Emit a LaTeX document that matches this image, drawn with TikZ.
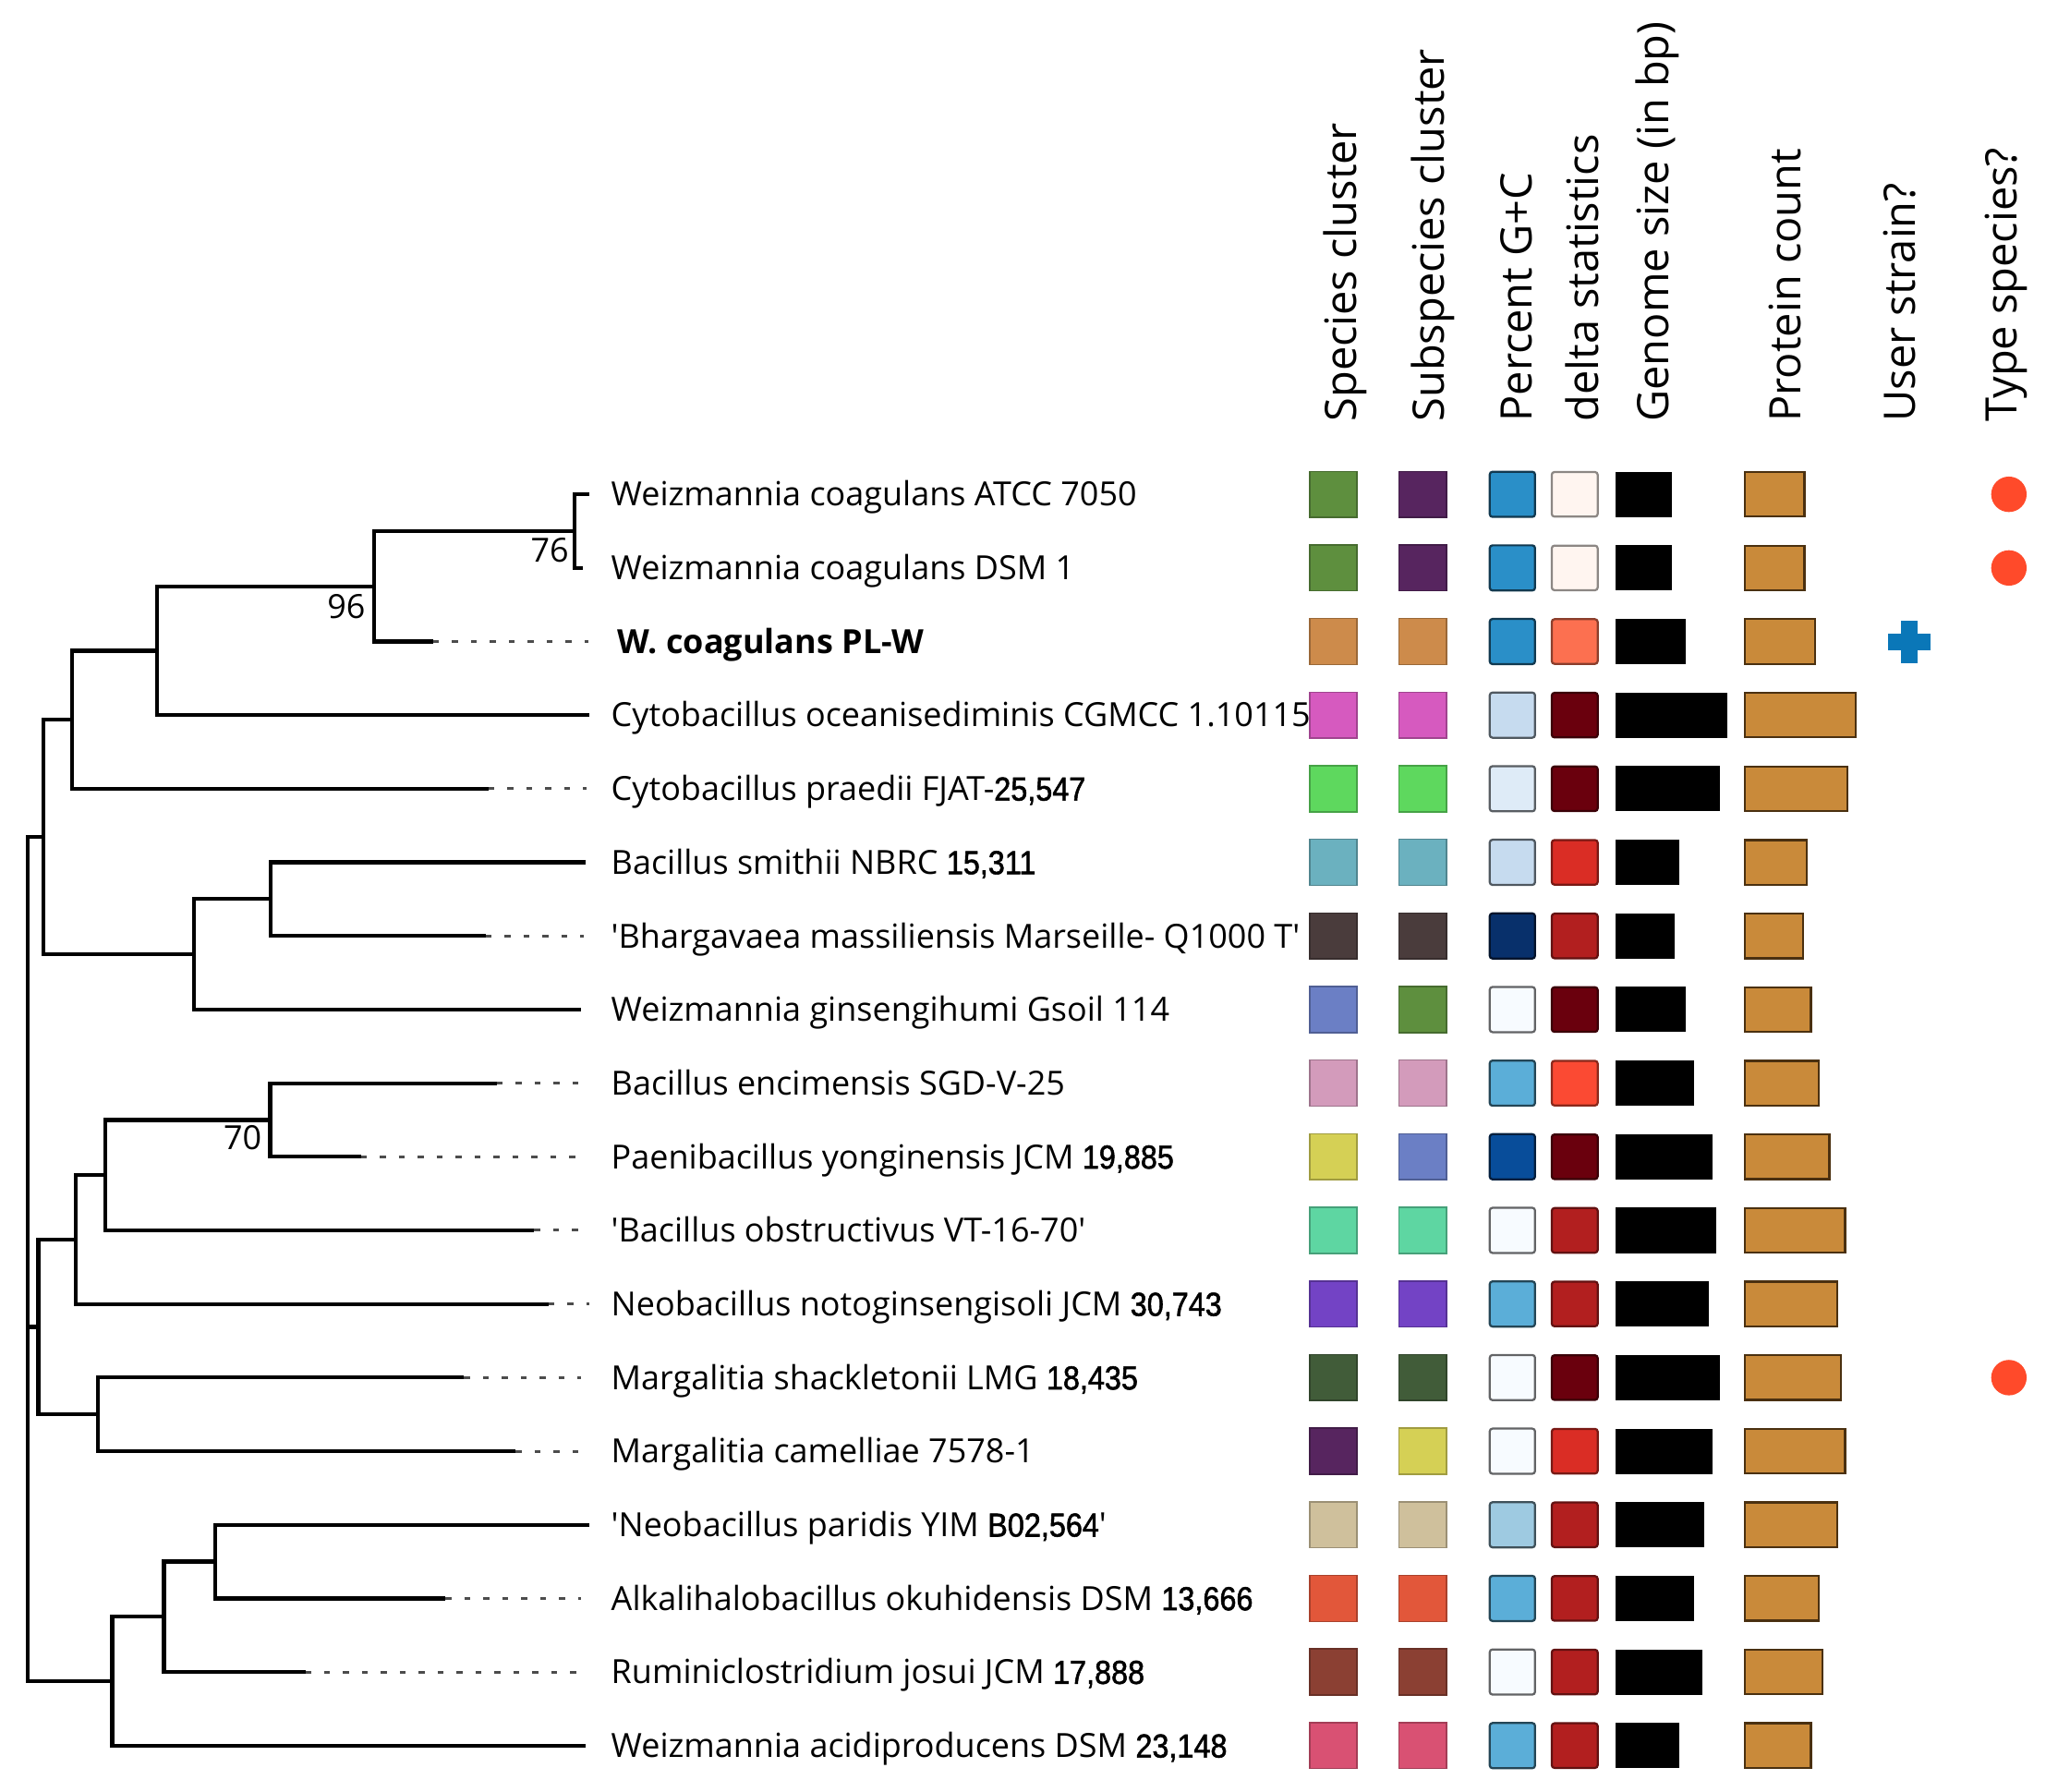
\documentclass[tikz,border=0pt]{standalone}
\usepackage{fontspec}
\setmainfont{Open Sans}
\newfontfamily\numfont[FakeBold=1.5, FakeStretch=0.9]{Liberation Sans}
\usetikzlibrary{positioning}

% cluster colours
\definecolor{spgreen}{HTML}{5E8F3E}
\definecolor{sppurple}{HTML}{57255F}
\definecolor{sptan}{HTML}{CD8B4B}
\definecolor{spmagenta}{HTML}{D65ABF}
\definecolor{splime}{HTML}{5ED85E}
\definecolor{spteal}{HTML}{6BB1BF}
\definecolor{spbrown}{HTML}{4A3C3C}
\definecolor{spslate}{HTML}{6B7FC5}
\definecolor{sppink}{HTML}{D39BBB}
\definecolor{spyellow}{HTML}{D5D055}
\definecolor{spmint}{HTML}{5ED6A2}
\definecolor{spviolet}{HTML}{7343C5}
\definecolor{spforest}{HTML}{415C39}
\definecolor{spbeige}{HTML}{CFC09C}
\definecolor{spcoral}{HTML}{E2573A}
\definecolor{sprust}{HTML}{8B4033}
\definecolor{sprose}{HTML}{D95173}
% G+C scale
\definecolor{gcA}{HTML}{2A8FC8}
\definecolor{gcB}{HTML}{5BAED8}
\definecolor{gcC}{HTML}{9ECAE1}
\definecolor{gcD}{HTML}{C6DBEF}
\definecolor{gcE}{HTML}{DEEBF7}
\definecolor{gcF}{HTML}{F7FBFF}
\definecolor{gcG}{HTML}{084D9A}
\definecolor{gcH}{HTML}{08306B}
% delta scale
\definecolor{dlA}{HTML}{FFF5F0}
\definecolor{dlB}{HTML}{FC7050}
\definecolor{dlC}{HTML}{FB4A33}
\definecolor{dlD}{HTML}{DA2D25}
\definecolor{dlE}{HTML}{B21F1F}
\definecolor{dlF}{HTML}{6A000D}
\definecolor{protfill}{HTML}{C98A3A}
\definecolor{protline}{HTML}{4A3010}
\definecolor{typered}{HTML}{FF4A2A}
\definecolor{userblue}{HTML}{0A77B8}

\tikzset{%
	branch/.style={line width=0.85pt},
	tail/.style={line width=0.6pt, gray!60!black, dash pattern=on 1.3pt off 2.8pt},
	taxon/.style={anchor=base west, inner sep=0pt, font=\fontsize{7.2}{8}\selectfont},
	boot/.style={anchor=north east, inner sep=0pt, font=\fontsize{7.2}{8}\selectfont},
	colhead/.style={rotate=90, anchor=base west, inner sep=0pt, font=\fontsize{9.4}{10}\selectfont},
	clus/.style={fill=#1, draw=#1!75!black, line width=0.3pt, inner sep=0pt,%
		minimum width=3.6mm, minimum height=3.5mm},
	gcbox/.style={fill=#1, draw=#1!40!black, line width=0.45pt, rounded corners=0.6pt,%
		inner sep=0pt, minimum width=3.45mm, minimum height=3.44mm},
	dlbox/.style={fill=#1, draw=#1!55!black, line width=0.45pt, rounded corners=0.6pt,%
		inner sep=0pt, minimum width=3.5mm, minimum height=3.4mm},
	gsbar/.style={fill=black, anchor=west, inner sep=0pt, minimum height=3.45mm},
	pcbar/.style={fill=protfill, draw=protline, line width=0.45pt, anchor=west,%
		inner sep=0pt, minimum height=3.4mm},
	typedot/.style={circle, fill=typered, inner sep=0pt, minimum size=2.7mm},
	plusbar/.style={fill=userblue, inner sep=0pt}
}
\newcommand{\q}{\textquotesingle}

\begin{document}
\begin{tikzpicture}[x=0.01cm, y=-0.01cm]
	\useasboundingbox (0,0) rectangle (1568,1365);

	% column headers
	\node[colhead] (hsp) at (1033.6,322) {Species cluster};
	\node[colhead] (hssp) at (1100.5,322) {Subspecies cluster};
	\node[colhead] (hgc) at (1167.4,322) {Percent G+C};
	\node[colhead] (hdl) at (1218,322) {delta statistics};
	\node[colhead] (hgs) at (1271.4,322) {Genome size (in bp)};
	\node[colhead] (hpc) at (1371.7,322) {Protein count};
	\node[colhead] (hus) at (1459,322) {User strain?};
	\node[colhead] (hts) at (1537,322) {Type species?};

	% leaf tips and dotted tails
	\foreach \i/\tx in {1/449, 2/444, 3/330, 4/449, 5/372, 6/446, 7/370, 8/443, 9/378.6,%
		10/275, 11/407, 12/418, 13/353.5, 14/393, 15/449, 16/339.4, 17/232.6, 18/446}
		\coordinate (t\i) at (\tx, {376.6+56.08*(\i-1)});
	\foreach \i/\ex in {3/448, 5/447, 7/445, 9/449, 10/447, 11/449, 12/449, 13/443,%
		14/449, 16/443, 17/447} {
		\coordinate (e\i) at (\ex, {376.6+56.08*(\i-1)});
		\draw[tail] (t\i) -- (e\i);
	}

	% inner nodes of the tree
	\coordinate (n76) at (438,404.6);
	\coordinate (n96) at (285,446.7);
	\coordinate (nA) at (119.5,495.8);
	\coordinate (nB) at (55,548.3);
	\coordinate (nC) at (33,637.7);
	\coordinate (nD) at (148,727.1);
	\coordinate (nE) at (206,685);
	\coordinate (n70) at (205.8,853.3);
	\coordinate (nF) at (80,895.4);
	\coordinate (nG) at (57.5,944.4);
	\coordinate (nH) at (74.5,1077.6);
	\coordinate (nI) at (29.2,1011);
	\coordinate (nJ) at (164,1189.7);
	\coordinate (nK) at (125,1231.8);
	\coordinate (nL) at (85.5,1280.9);
	\coordinate (root) at (21,959.3);

	\draw[branch] (n76) |- (t1) (n76) |- (t2);
	\draw[branch] (n96) |- (n76) (n96) |- (t3);
	\draw[branch] (nA) |- (n96) (nA) |- (t4);
	\draw[branch] (nB) |- (nA) (nB) |- (t5);
	\draw[branch] (nE) |- (t6) (nE) |- (t7);
	\draw[branch] (nD) |- (nE) (nD) |- (t8);
	\draw[branch] (nC) |- (nB) (nC) |- (nD);
	\draw[branch] (n70) |- (t9) (n70) |- (t10);
	\draw[branch] (nF) |- (n70) (nF) |- (t11);
	\draw[branch] (nG) |- (nF) (nG) |- (t12);
	\draw[branch] (nH) |- (t13) (nH) |- (t14);
	\draw[branch] (nI) |- (nG) (nI) |- (nH);
	\draw[branch] (nJ) |- (t15) (nJ) |- (t16);
	\draw[branch] (nK) |- (nJ) (nK) |- (t17);
	\draw[branch] (nL) |- (nK) (nL) |- (t18);
	\draw[branch] (root) |- (nC) (root) |- (nI) (root) |- (nL);

	% bootstrap values
	\node[boot] (b76) at (434,409) {76};
	\node[boot] (b96) at (279,452) {96};
	\node[boot] (b70) at (200,857) {70};

	% taxa
	\node[taxon] (lab1) at (465,385.6) {Weizmannia coagulans ATCC 7050};
	\node[taxon] (lab2) at (465,441.7) {Weizmannia coagulans DSM 1};
	\node[taxon, font=\fontsize{7.2}{8}\selectfont\bfseries] (lab3) at (470,497.8) {W. coagulans PL-W};
	\node[taxon] (lab4) at (465,553.8) {Cytobacillus oceanisediminis CGMCC 1.10115};
	\node[taxon] (lab5) at (465,609.9) {Cytobacillus praedii FJAT-{\numfont 25,547}};
	\node[taxon] (lab6) at (465,666) {Bacillus smithii NBRC {\numfont 15,311}};
	\node[taxon] (lab7) at (465,722.1) {\q Bhargavaea massiliensis Marseille- Q1000 T\q};
	\node[taxon] (lab8) at (465,778.2) {Weizmannia ginsengihumi Gsoil 114};
	\node[taxon] (lab9) at (465,834.2) {Bacillus encimensis SGD-V-25};
	\node[taxon] (lab10) at (465,890.3) {Paenibacillus yonginensis JCM {\numfont 19,885}};
	\node[taxon] (lab11) at (465,946.4) {\q Bacillus obstructivus VT-16-70\q};
	\node[taxon] (lab12) at (465,1002.5) {Neobacillus notoginsengisoli JCM {\numfont 30,743}};
	\node[taxon] (lab13) at (465,1058.6) {Margalitia shackletonii LMG {\numfont 18,435}};
	\node[taxon] (lab14) at (465,1114.6) {Margalitia camelliae 7578-1};
	\node[taxon] (lab15) at (465,1170.7) {\q Neobacillus paridis YIM {\numfont B02,564}\q};
	\node[taxon] (lab16) at (465,1226.8) {Alkalihalobacillus okuhidensis DSM {\numfont 13,666}};
	\node[taxon] (lab17) at (465,1282.9) {Ruminiclostridium josui JCM {\numfont 17,888}};
	\node[taxon] (lab18) at (465,1339) {Weizmannia acidiproducens DSM {\numfont 23,148}};

	% data columns
	\foreach \i/\csp/\cssp/\cgc/\cdl/\wgs/\wpc in {%
		1/spgreen/sppurple/gcA/dlA/1273/1374,
		2/spgreen/sppurple/gcA/dlA/1273/1374,
		3/sptan/sptan/gcA/dlB/1284/1382,
		4/spmagenta/spmagenta/gcD/dlF/1315/1413,
		5/splime/splime/gcE/dlF/1310/1407,
		6/spteal/spteal/gcD/dlD/1279/1376,
		7/spbrown/spbrown/gcH/dlE/1275/1373,
		8/spslate/spgreen/gcF/dlF/1284/1379,
		9/sppink/sppink/gcB/dlC/1290/1385,
		10/spyellow/spslate/gcG/dlF/1304/1393,
		11/spmint/spmint/gcF/dlE/1307/1405,
		12/spviolet/spviolet/gcB/dlE/1301/1399,
		13/spforest/spforest/gcF/dlF/1310/1402,
		14/sppurple/spyellow/gcF/dlD/1304/1405,
		15/spbeige/spbeige/gcC/dlE/1298/1399,
		16/spcoral/spcoral/gcB/dlE/1290/1385,
		17/sprust/sprust/gcF/dlE/1296/1388,
		18/sprose/sprose/gcB/dlE/1279/1379} {
		\pgfmathsetmacro{\ry}{376.6+56.08*(\i-1)}
		\node[clus=\csp] (sp\i) at (1016,\ry) {};
		\node[clus=\cssp] (ssp\i) at (1084,\ry) {};
		\node[gcbox=\cgc] (gc\i) at (1152.3,\ry) {};
		\node[dlbox=\cdl] (dl\i) at (1199.8,\ry) {};
		\node[gsbar, minimum width={(\wgs-1230)*0.01cm}] (gs\i) at (1230,\ry) {};
		\node[pcbar, minimum width={(\wpc-1328.5)*0.01cm}] (pc\i) at (1328.5,\ry) {};
	}

	% user strain and type species marks
	\node[plusbar, minimum width=3.25mm, minimum height=1.27mm] (ush) at (1454.7,489) {};
	\node[plusbar, minimum width=1.24mm, minimum height=3.25mm] (usv) at (1454.7,489) {};
	\node[typedot] (ts1) at (1530.6,376.6) {};
	\node[typedot] (ts2) at (1530.6,432.7) {};
	\node[typedot] (ts13) at (1530.6,1049.6) {};
\end{tikzpicture}
\end{document}
